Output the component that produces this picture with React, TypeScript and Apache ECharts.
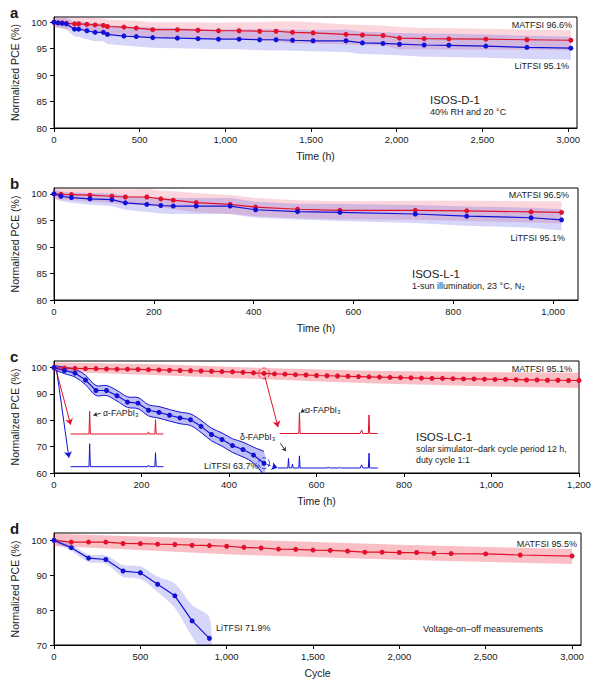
import React, { useEffect, useRef } from "react";
import * as echarts from "echarts";

// ---------- Panel a (ISOS-D-1) ----------
const A_TIME = [0, 24, 48, 72, 120, 144, 192, 240, 288, 312, 408, 480, 576, 720, 840, 960, 1080, 1200, 1296, 1392, 1512, 1704, 1800, 1920, 2016, 2160, 2304, 2520, 2760, 3016];
const A_RED = [100, 99.9, 99.9, 99.8, 99.7, 99.7, 99.6, 99.5, 99.4, 99.2, 99.1, 98.9, 98.6, 98.6, 98.5, 98.4, 98.4, 98.3, 98.3, 98.1, 98.0, 97.7, 97.6, 97.5, 97.0, 96.9, 96.85, 96.8, 96.7, 96.6];
const A_BLUE = [100, 99.9, 99.8, 99.7, 98.7, 98.7, 98.4, 98.1, 98.1, 97.7, 97.4, 97.3, 97.1, 97.0, 96.9, 96.8, 96.8, 96.7, 96.7, 96.6, 96.5, 96.5, 96.1, 96.0, 95.85, 95.7, 95.65, 95.5, 95.25, 95.1];
const A_RED_ERR = [1.0, 1.0, 1.0, 1.1, 1.1, 1.2, 1.2, 1.3, 1.3, 1.3, 1.3, 1.4, 1.4, 1.4, 1.5, 1.5, 1.6, 1.7, 1.9, 2.1, 2.0, 1.9, 1.9, 1.9, 2.1, 2.0, 2.0, 2.0, 1.9, 1.9];
const A_BLUE_ERR = [0.8, 0.9, 1.0, 1.1, 1.4, 1.5, 1.6, 1.7, 1.7, 1.8, 1.8, 1.9, 1.9, 1.9, 1.9, 1.9, 1.9, 2.0, 2.0, 2.0, 2.0, 2.1, 2.1, 2.1, 2.1, 2.2, 2.2, 2.2, 2.2, 2.2];

// ---------- Panel b (ISOS-L-1) ----------
const B_TIME = [0, 14, 35, 72, 116, 143, 186, 214, 239, 285, 353, 404, 488, 573, 724, 827, 956, 1017];
const B_RED = [100, 99.9, 99.85, 99.75, 99.55, 99.4, 99.4, 99.05, 98.8, 98.35, 98.0, 97.5, 97.1, 96.9, 96.9, 96.8, 96.6, 96.5];
const B_BLUE = [100, 99.55, 99.3, 99.05, 98.9, 98.3, 98.0, 97.8, 97.7, 97.7, 97.7, 97.0, 96.65, 96.5, 96.2, 95.8, 95.5, 95.1];
const B_RED_ERR = [1.0, 1.0, 1.1, 1.2, 1.3, 1.4, 1.5, 1.6, 1.7, 1.8, 1.8, 1.7, 1.7, 1.7, 1.8, 1.9, 2.0, 2.1];
const B_BLUE_ERR = [0.8, 0.9, 1.0, 1.1, 1.2, 1.3, 1.4, 1.5, 1.5, 1.5, 1.5, 1.5, 1.5, 1.6, 1.7, 1.8, 1.9, 2.0];

// ---------- Panel c (ISOS-LC-1) ----------
const C_RED_TIME = [0, 24, 48, 72, 96, 120, 144, 168, 192, 216, 240, 264, 288, 312, 336, 360, 384, 408, 432, 456, 480, 504, 528, 552, 576, 600, 624, 648, 672, 696, 720, 744, 768, 792, 816, 840, 864, 888, 912, 936, 960, 984, 1008, 1032, 1056, 1080, 1104, 1128, 1152, 1176, 1200];
const C_RED = [100, 99.8, 99.7, 99.6, 99.6, 99.5, 99.4, 99.4, 99.3, 99.2, 99.1, 99.0, 98.9, 98.8, 98.7, 98.6, 98.5, 98.4, 98.2, 98.0, 97.8, 97.6, 97.5, 97.3, 97.2, 97.0, 96.9, 96.8, 96.7, 96.6, 96.5, 96.4, 96.3, 96.2, 96.1, 96.0, 95.9, 95.9, 95.8, 95.7, 95.7, 95.6, 95.5, 95.5, 95.4, 95.3, 95.3, 95.2, 95.2, 95.1, 95.1];
const C_RED_BAND_T = [0, 240, 480, 720, 960, 1200];
const C_RED_HI = [101.9, 101.3, 99.8, 98.8, 98.3, 98.0];
const C_RED_LO = [98.5, 97.1, 95.6, 94.1, 93.0, 92.3];
const C_BLUE_TIME = [0, 24, 48, 72, 96, 120, 144, 168, 192, 216, 240, 264, 288, 312, 336, 360, 384, 408, 432, 456, 480];
const C_BLUE = [100, 98.9, 97.9, 95.3, 91.3, 91.3, 89.3, 86.9, 86.5, 83.8, 83.0, 81.9, 80.9, 80.2, 77.7, 74.6, 72.7, 70.4, 68.9, 66.8, 63.7];
const C_BLUE_ERR = [0.8, 1.2, 1.5, 1.8, 1.9, 1.9, 2.0, 2.0, 2.1, 2.1, 2.2, 2.2, 2.2, 2.2, 2.3, 2.4, 2.5, 2.6, 2.8, 3.0, 4.5];

// XRD insets (x in h, y in % of panel c axes)
const XRD_RED_L = [[38, 74.8], [80, 74.8], [81.5, 83.4], [83, 74.8], [214, 74.8], [216, 75.6], [218, 74.8], [230.5, 74.8], [232, 80.2], [233.5, 74.8], [250, 74.8]];
const XRD_BLUE_L = [[38, 62.4], [80, 62.4], [81.5, 71.1], [83, 62.4], [214, 62.4], [216, 63.0], [218, 62.4], [230.5, 62.4], [232, 67.7], [233.5, 62.4], [250, 62.4]];
const XRD_RED_R = [[516, 75.0], [559.5, 75.0], [561, 82.9], [562.5, 75.0], [700, 75.0], [703, 76.3], [706, 75.0], [718.5, 75.0], [720, 82.0], [721.5, 75.0], [740, 75.0]];
const XRD_BLUE_R = [[512, 61.9], [534.5, 61.9], [536, 65.5], [537.5, 61.9], [543.5, 61.9], [545, 63.4], [546.5, 61.9], [559.5, 61.9], [561, 66.5], [562.5, 61.9], [625, 61.9], [627, 62.3], [629, 61.9], [650, 61.9], [652, 62.2], [654, 61.9], [700, 61.9], [703, 63.1], [706, 61.9], [718.5, 61.9], [720, 67.5], [721.5, 61.9], [740, 61.9]];

// ---------- Panel d (voltage on-off) ----------
const D_RED_CYCLE = [0, 100, 200, 300, 400, 500, 600, 700, 800, 900, 1000, 1100, 1200, 1300, 1400, 1500, 1600, 1700, 1800, 1900, 2000, 2100, 2200, 2300, 2500, 2700, 3000];
const D_RED = [100, 99.5, 99.5, 99.5, 99.1, 99.05, 98.9, 98.8, 98.6, 98.5, 98.3, 98.0, 97.8, 97.5, 97.4, 97.2, 97.1, 96.9, 96.6, 96.6, 96.5, 96.5, 96.3, 96.2, 96.1, 95.8, 95.5];
const D_RED_BAND_T = [0, 1100, 2000, 3000];
const D_RED_HI = [101.9, 100.2, 98.7, 97.5];
const D_RED_LO = [98.4, 95.8, 94.4, 93.2];
const D_BLUE_CYCLE = [0, 100, 200, 300, 400, 500, 600, 700, 800, 900];
const D_BLUE = [100, 97.9, 94.9, 94.5, 91.2, 90.7, 87.4, 84.1, 76.9, 71.9];
const D_BLUE_ERR = [0.5, 0.9, 1.1, 1.2, 1.7, 1.8, 2.2, 3.5, 4.5, 6.0];

// ---------- Axis ticks ----------
const TICKS_Y_AB = [80, 85, 90, 95, 100];
const TICKS_Y_C = [60, 70, 80, 90, 100];
const TICKS_Y_D = [70, 80, 90, 100];
const TICKS_X_3000 = [0, 500, 1000, 1500, 2000, 2500, 3000];
const TICKS_X_1000 = [0, 200, 400, 600, 800, 1000];
const TICKS_X_1200 = [0, 200, 400, 600, 800, 1000, 1200];

const RED = "#e3102c";
const BLUE = "#1212d6";
const FONT = "'Liberation Sans', Arial, Helvetica, sans-serif";
const TXT = "#1a1a1a";

const fmt = (v: number) => v.toLocaleString("en-US");

function xAx(idx: number, max: number, ticks: number[], name: string) {
  return {
    type: "value", gridIndex: idx, min: 0, max, name, nameLocation: "middle", nameGap: 22,
    nameTextStyle: { fontSize: 10.5, color: TXT, fontFamily: FONT },
    axisLine: { show: true, onZero: false, lineStyle: { color: "#000", width: 1 } },
    axisTick: { show: true, length: 4, lineStyle: { color: "#000" }, customValues: ticks },
    axisLabel: { customValues: ticks, formatter: fmt, fontSize: 9.5, color: TXT, margin: 6, fontFamily: FONT },
    splitLine: { show: false },
  };
}
function yAx(idx: number, min: number, max: number, ticks: number[]) {
  return {
    type: "value", gridIndex: idx, min, max, name: "Normalized PCE (%)", nameLocation: "middle", nameGap: 27,
    nameTextStyle: { fontSize: 10.5, color: TXT, fontFamily: FONT },
    axisLine: { show: true, onZero: false, lineStyle: { color: "#000", width: 1 } },
    axisTick: { show: true, length: 4, lineStyle: { color: "#000" }, customValues: ticks },
    axisLabel: { customValues: ticks, fontSize: 9.5, color: TXT, margin: 7, fontFamily: FONT },
    splitLine: { show: false },
  };
}
function lineS(idx: number, xs: number[], ys: number[], color: string, size = 5) {
  return {
    type: "line", xAxisIndex: idx, yAxisIndex: idx, data: xs.map((x, i) => [x, ys[i]]),
    symbol: "circle", symbolSize: size, showSymbol: true, lineStyle: { color, width: 1.2 },
    itemStyle: { color }, z: 3, silent: true,
  };
}
function bandS(idx: number, xs: number[], lo: number[], hi: number[], fill: string, stroke?: string, smooth = 0) {
  return {
    type: "custom", xAxisIndex: idx, yAxisIndex: idx, silent: true, z: 1,
    data: [[xs[0], lo[0]]],
    renderItem: (params: any, api: any) => {
      const up = xs.map((x, i) => api.coord([x, hi[i]]));
      const dn = xs.map((x, i) => api.coord([x, lo[i]]));
      const cs = params.coordSys;
      const children: any[] = [
        { type: "polygon", shape: { points: up.concat(dn.slice().reverse()), smooth }, style: { fill } },
      ];
      if (stroke) {
        children.push({ type: "polyline", shape: { points: up, smooth }, style: { stroke, fill: null, lineWidth: 1 } });
        children.push({ type: "polyline", shape: { points: dn, smooth }, style: { stroke, fill: null, lineWidth: 1 } });
      }
      return { type: "group", children, clipPath: { type: "rect", shape: { x: cs.x, y: cs.y, width: cs.width, height: cs.height } } };
    },
  };
}
function errBand(idx: number, xs: number[], ys: number[], err: number[], fill: string, stroke?: string, smooth = 0) {
  return bandS(idx, xs, ys.map((v, i) => v - err[i]), ys.map((v, i) => v + err[i]), fill, stroke, smooth);
}
function xrdS(data: number[][], color: string) {
  return { type: "line", xAxisIndex: 2, yAxisIndex: 2, data, symbol: "none", lineStyle: { color, width: 1 }, z: 2, silent: true };
}
function arrowS(coords: number[][], color: string, dashed = false, size = 6) {
  return {
    type: "lines", coordinateSystem: "cartesian2d", xAxisIndex: 2, yAxisIndex: 2, silent: true, z: 4,
    symbol: ["none", "arrow"], symbolSize: size,
    lineStyle: { color, width: 1, opacity: 1, curveness: 0, type: dashed ? "dashed" : "solid" },
    data: [{ coords }],
  };
}
function circleS(pt: number[], color: string) {
  return {
    type: "scatter", xAxisIndex: 2, yAxisIndex: 2, data: [pt], symbol: "circle", symbolSize: 11, z: 5, silent: true,
    itemStyle: { color: "rgba(0,0,0,0)", borderColor: color, borderWidth: 1, borderType: "dashed" },
  };
}
function txt(text: string, x: number, y: number, size: number, align = "left", weight = "normal") {
  return {
    type: "text", x, y, silent: true, z: 10,
    style: { text, font: `${weight} ${size}px ${FONT}`, fill: TXT, textAlign: align, textVerticalAlign: "middle" },
  };
}

const PINK = "rgba(238, 70, 95, 0.22)";
const LAV = "rgba(70, 70, 230, 0.22)";
const PINK_C = "rgba(238, 60, 80, 0.33)";
const LAV_C = "rgba(60, 60, 225, 0.33)";

const option: any = {
  animation: false,
  backgroundColor: "#fff",
  grid: [
    { left: 54, top: 17, width: 523, height: 111 },
    { left: 54, top: 188, width: 524, height: 112 },
    { left: 54, top: 361, width: 525, height: 112 },
    { left: 54, top: 533, width: 527, height: 112 },
  ].map((g) => ({ ...g, show: true, borderColor: "#000", borderWidth: 1, backgroundColor: "transparent", containLabel: false, outerBoundsMode: "none" })),
  xAxis: [
    xAx(0, 3052, TICKS_X_3000, "Time (h)"),
    xAx(1, 1050, TICKS_X_1000, "Time (h)"),
    xAx(2, 1200, TICKS_X_1200, "Time (h)"),
    xAx(3, 3052, TICKS_X_3000, "Cycle"),
  ],
  yAxis: [
    yAx(0, 80, 101, TICKS_Y_AB),
    yAx(1, 80, 101.1, TICKS_Y_AB),
    yAx(2, 60, 102.5, TICKS_Y_C),
    yAx(3, 70, 102.1, TICKS_Y_D),
  ],
  series: [
    // a
    errBand(0, A_TIME, A_RED, A_RED_ERR, PINK),
    errBand(0, A_TIME, A_BLUE, A_BLUE_ERR, LAV),
    lineS(0, A_TIME, A_RED, RED),
    lineS(0, A_TIME, A_BLUE, BLUE),
    // b
    errBand(1, B_TIME, B_RED, B_RED_ERR, PINK),
    errBand(1, B_TIME, B_BLUE, B_BLUE_ERR, LAV),
    lineS(1, B_TIME, B_RED, RED),
    lineS(1, B_TIME, B_BLUE, BLUE),
    // c
    bandS(2, C_RED_BAND_T, C_RED_LO, C_RED_HI, PINK_C),
    errBand(2, C_BLUE_TIME, C_BLUE, C_BLUE_ERR, LAV_C, BLUE, 0.35),
    lineS(2, C_RED_TIME, C_RED, RED, 5),
    lineS(2, C_BLUE_TIME, C_BLUE, BLUE, 5),
    xrdS(XRD_RED_L, RED),
    xrdS(XRD_BLUE_L, BLUE),
    xrdS(XRD_RED_R, RED),
    xrdS(XRD_BLUE_R, BLUE),
    arrowS([[4, 99.6], [38, 78.3]], RED),
    arrowS([[6, 99.0], [34, 65.8]], BLUE),
    arrowS([[482, 96.6], [512, 77.4]], RED),
    arrowS([[486, 63.2], [511, 62.0]], BLUE, true),
    arrowS([[107, 82.7], [90, 81.9]], "#333", false, 4),
    arrowS([[574, 84.1], [564, 83.0]], "#333", false, 4),
    arrowS([[517, 71.3], [530, 68.3]], "#333", false, 4),
    circleS([480, 97.8], RED),
    circleS([480, 63.7], BLUE),
    // d
    bandS(3, D_RED_BAND_T, D_RED_LO, D_RED_HI, PINK_C),
    errBand(3, D_BLUE_CYCLE, D_BLUE, D_BLUE_ERR, LAV, undefined, 0.3),
    lineS(3, D_RED_CYCLE, D_RED, RED),
    lineS(3, D_BLUE_CYCLE, D_BLUE, BLUE),
  ],
  graphic: [
    txt("a", 10, 12, 15, "left", "bold"),
    txt("b", 10, 183, 15, "left", "bold"),
    txt("c", 10, 356, 15, "left", "bold"),
    txt("d", 10, 528, 15, "left", "bold"),
    txt("MATFSI 96.6%", 572, 25, 9, "right"),
    txt("LiTFSI 95.1%", 569, 66, 9, "right"),
    txt("ISOS-D-1", 430, 100, 11.5),
    txt("40% RH and 20 °C", 430, 112, 9),
    txt("MATFSI 96.5%", 569, 195, 9, "right"),
    txt("LiTFSI 95.1%", 565, 238, 9, "right"),
    txt("ISOS-L-1", 412, 274, 11.5),
    txt("1-sun illumination, 23 °C, N₂", 412, 286, 9),
    txt("MATFSI 95.1%", 572, 369, 9, "right"),
    txt("LiTFSI 63.7%", 204, 466, 9),
    txt("ISOS-LC-1", 416, 437, 11.5),
    txt("solar simulator–dark cycle period 12 h,", 416, 449, 8.8),
    txt("duty cycle 1:1", 416, 460, 8.8),
    txt("α-FAPbI₃", 103, 413, 8.8),
    txt("α-FAPbI₃", 305, 410, 8.8),
    txt("δ-FAPbI₃", 240, 437, 8.8),
    txt("MATFSI 95.5%", 577, 544, 9, "right"),
    txt("LiTFSI 71.9%", 216, 628, 9),
    txt("Voltage-on–off measurements", 423, 629, 9),
  ],
};

export default function App() {
  const ref = useRef<HTMLDivElement>(null);
  useEffect(() => {
    const chart = echarts.init(ref.current as HTMLDivElement, null, { renderer: "svg" });
    chart.setOption(option);
    return () => chart.dispose();
  }, []);
  return <div ref={ref} style={{ position: "absolute", left: 0, top: 0, width: 604, height: 683, background: "#fff" }} />;
}
